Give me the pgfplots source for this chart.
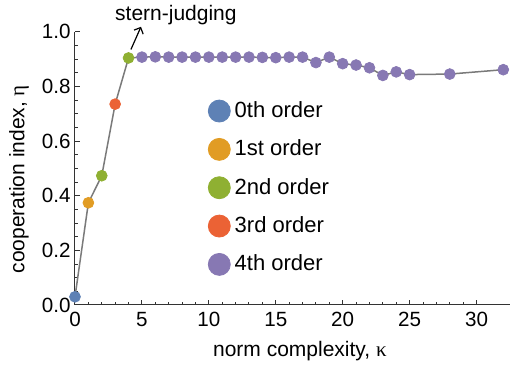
\documentclass[border=0pt]{standalone}
\usepackage{fontspec}
\setmainfont{Liberation Sans}
\newfontfamily\grk{Liberation Serif}
\usepackage{pgfplots}
\usetikzlibrary{arrows.meta}
\pgfplotsset{compat=1.18}
\definecolor{c0}{HTML}{5E81B5}
\definecolor{c1}{HTML}{E19C24}
\definecolor{c2}{HTML}{8FB032}
\definecolor{c3}{HTML}{EB6235}
\definecolor{c4}{HTML}{8778B3}
\definecolor{linegray}{HTML}{7A7A7A}
\pgfplotsset{
  dotplot/.style={only marks, mark=*, color=#1, mark size=2.7pt,
    legend image code/.code={\fill (5.5pt,0pt) circle (5.5pt);}},
}
\begin{document}
\begin{tikzpicture}
\useasboundingbox (-37.5pt,-32pt) rectangle (217.5pt,152.5pt);
\begin{axis}[
  at={(0pt,0pt)}, anchor=south west,
  scale only axis, width=217.5pt, height=136.65pt,
  xmin=0, xmax=32.5, ymin=0, ymax=1,
  axis lines*=left,
  axis line style={black!80, line width=0.5pt},
  tick style={black!80, line width=0.5pt},
  tick align=inside,
  major tick length=2.5pt, minor tick length=1.5pt,
  xtick={0,5,10,15,20,25,30}, minor x tick num=4,
  ytick={0,0.2,0.4,0.6,0.8,1.0}, minor y tick num=3,
  yticklabel style={/pgf/number format/fixed, /pgf/number format/fixed zerofill, /pgf/number format/precision=1, inner xsep=2pt},
  /pgf/number format/assume math mode=true,
  tick label style={font=\fontsize{10.3}{12}\selectfont},
  clip=false,
  xlabel={norm complexity, {\grk κ}},
  ylabel={cooperation index, {\grk η}},
  xlabel style={at={(axis description cs:0.517,-0.17)}, anchor=center, font=\fontsize{10.5}{12}\selectfont},
  ylabel style={at={(axis description cs:-0.129,0.46)}, anchor=center, font=\fontsize{10.5}{12}\selectfont},
  legend cell align=left,
  legend style={draw=none, fill=none, at={(axis cs:9.93,0.759)}, anchor=north west,
    inner sep=0pt, outer sep=0pt, row sep=5.7pt, font=\fontsize{11}{13}\selectfont},
]
\addplot[forget plot, color=linegray, line width=0.75pt, no marks] coordinates {
(0,0.030) (1,0.374) (2,0.473) (3,0.735) (4,0.904) (5,0.907) (6,0.908) (7,0.907)
(8,0.907) (9,0.907) (10,0.907) (11,0.907) (12,0.907) (13,0.907) (14,0.906)
(15,0.905) (16,0.907) (17,0.907) (18,0.887) (19,0.907) (20,0.883) (21,0.878)
(22,0.868) (23,0.840) (24,0.853) (25,0.843) (28,0.845) (32,0.861)
};
\addplot[dotplot=c0] coordinates {(0,0.030)};
\addlegendentry{0th order}
\addplot[dotplot=c1] coordinates {(1,0.374)};
\addlegendentry{1st order}
\addplot[dotplot=c2] coordinates {(2,0.473) (4,0.904)};
\addlegendentry{2nd order}
\addplot[dotplot=c3] coordinates {(3,0.735)};
\addlegendentry{3rd order}
\addplot[dotplot=c4] coordinates {
(5,0.907) (6,0.908) (7,0.907) (8,0.907) (9,0.907) (10,0.907) (11,0.907) (12,0.907)
(13,0.907) (14,0.906) (15,0.905) (16,0.907) (17,0.907) (18,0.887) (19,0.907)
(20,0.883) (21,0.878) (22,0.868) (23,0.840) (24,0.853) (25,0.843) (28,0.845) (32,0.861)
};
\addlegendentry{4th order}
\draw[-{Straight Barb[length=2.5pt,width=5pt]}, line width=0.6pt] (axis cs:4.18,0.935) -- (axis cs:4.93,1.018);
\node[anchor=base, font=\fontsize{10.5}{12}\selectfont] at (axis cs:7.54,1.04) {stern-judging};
\end{axis}
\end{tikzpicture}
\end{document}
